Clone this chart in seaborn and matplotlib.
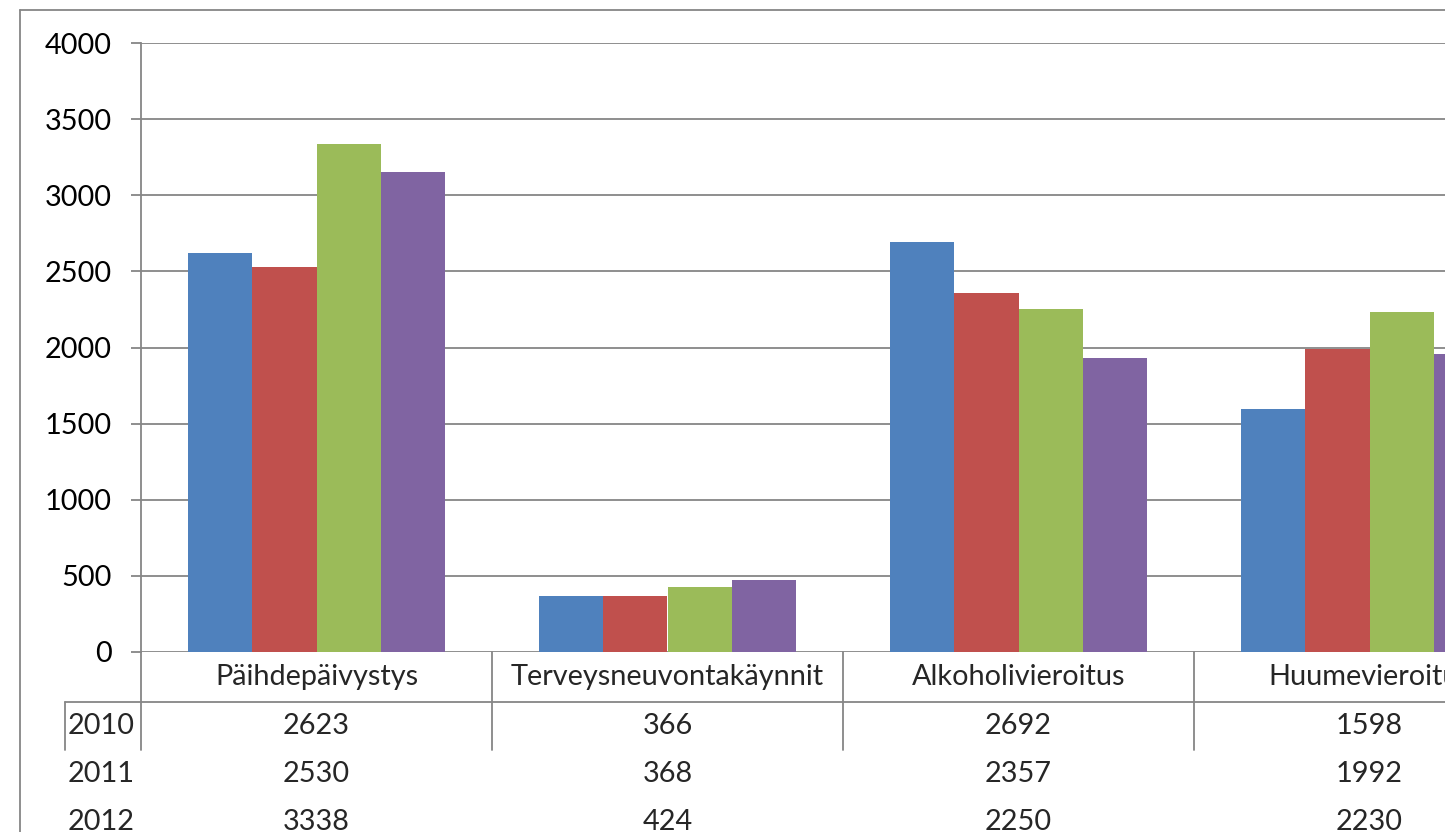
import pandas as pd
import matplotlib.pyplot as plt
from matplotlib.lines import Line2D
import matplotlib.transforms as mtransforms
import seaborn as sns

# values (2013, its table row is cut off)
categories = ['Päihdepäivystys', 'Terveysneuvontakäynnit', 'Alkoholivieroitus', 'Huumevieroitus']
years = ['2010', '2011', '2012', '2013']
v2010 = [2623, 366, 2692, 1598]
v2011 = [2530, 368, 2357, 1992]
v2012 = [3338, 424, 2250, 2230]
v2013 = [3150, 473, 1930, 1955]
colors = ['#4F81BD', '#C0504D', '#9BBB59', '#8064A2']

rows = []
for year, vals in zip(years, [v2010, v2011, v2012, v2013]):
    for cat, v in zip(categories, vals):
        rows.append({'Kategoria': cat, 'Vuosi': year, 'Arvo': v})
df = pd.DataFrame(rows)

W, H = 1445, 832
GRAY = '#868686'
FONT = 'Lato'
FS = 20.8


def fx(px):
    return px / W


def fy(py):
    return 1 - py / H


sns.set_style('white')
plt.rcParams['font.family'] = [FONT, 'DejaVu Sans']

fig = plt.figure(figsize=(W / 100, H / 100), dpi=100)

# plot area runs past the right edge of the picture (chart is cropped)
ax_left, ax_right, ax_top, ax_bottom = 141, 1545, 43, 652
ax = fig.add_axes([fx(ax_left), fy(ax_bottom), fx(ax_right - ax_left), (ax_bottom - ax_top) / H])

sns.barplot(data=df, x='Kategoria', y='Arvo', hue='Vuosi', palette=colors,
            saturation=1, width=0.73, gap=0, linewidth=0, ax=ax, legend=False)

ax.set_ylim(0, 4000)
ax.set_xlim(-0.5, len(categories) - 0.5)
ax.set_yticks(range(0, 4001, 500))
ax.yaxis.grid(True, color=GRAY, linewidth=1.3)
ax.set_axisbelow(True)
ax.set_xlabel('')
ax.set_ylabel('')
ax.set_xticks([])
for s in ['top', 'right', 'bottom']:
    ax.spines[s].set_visible(False)
ax.spines['left'].set_color(GRAY)
ax.spines['left'].set_linewidth(1.3)
ax.tick_params(axis='y', length=7.2, width=1.3, color=GRAY, direction='out',
               pad=14, labelsize=FS, labelcolor='black', left=True)

# outer chart border
fig.add_artist(Line2D([fx(20), fx(20)], [fy(10), fy(H + 5)], color=GRAY, lw=1.3))
fig.add_artist(Line2D([fx(20), fx(W + 5)], [fy(10), fy(10)], color=GRAY, lw=1.3))

# data table below the plot
trans = mtransforms.blended_transform_factory(ax.transData, fig.transFigure)
row_y = [726, 774, 822, 870]
head_y = 677
for i, cat in enumerate(categories):
    ax.text(i, fy(head_y), cat, transform=trans, ha='center', va='center',
            fontsize=FS, clip_on=False)
    for j, vals in enumerate([v2010, v2011, v2012, v2013]):
        ax.text(i, fy(row_y[j]), str(vals[i]), transform=trans, ha='center',
                va='center', fontsize=FS, clip_on=False)
for j, year in enumerate(years):
    fig.text(fx(101), fy(row_y[j]), year, ha='center', va='center', fontsize=FS)

# table grid lines
fig.add_artist(Line2D([fx(65), fx(W + 5)], [fy(702), fy(702)], color=GRAY, lw=1.3))
fig.add_artist(Line2D([fx(65), fx(65)], [fy(702), fy(750)], color=GRAY, lw=1.3))
for i in range(len(categories) + 1):
    ax.add_artist(Line2D([i - 0.5, i - 0.5], [fy(652), fy(750)], transform=trans,
                         color=GRAY, lw=1.3, clip_on=False))

fig.savefig('out.png', dpi=100)
